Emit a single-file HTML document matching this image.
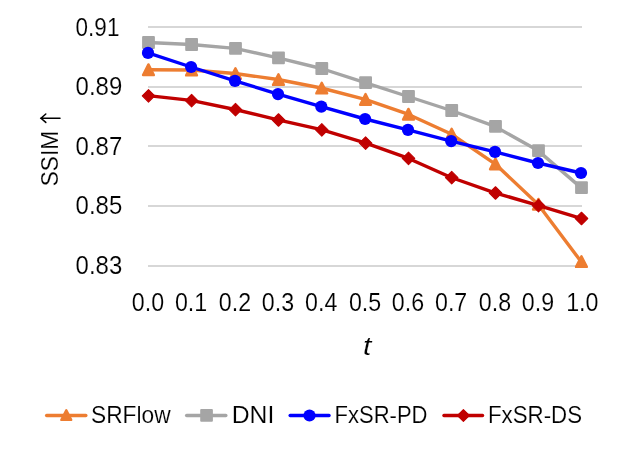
<!DOCTYPE html><html><head><meta charset="utf-8"><style>html,body{margin:0;padding:0;background:#fff;}svg{display:block;will-change:transform;}text{font-family:"Liberation Sans",sans-serif;fill:#000;stroke:#fff;stroke-width:0.14px;}</style></head><body>
<svg width="621" height="450" viewBox="0 0 621 450">
<rect width="621" height="450" fill="#fff"/>
<line x1="148" y1="27" x2="582" y2="27" stroke="#D7D7D7" stroke-width="2"/>
<line x1="148" y1="87" x2="582" y2="87" stroke="#D7D7D7" stroke-width="2"/>
<line x1="148" y1="146" x2="582" y2="146" stroke="#D7D7D7" stroke-width="2"/>
<line x1="148" y1="206" x2="582" y2="206" stroke="#D7D7D7" stroke-width="2"/>
<line x1="148" y1="266" x2="582" y2="266" stroke="#D7D7D7" stroke-width="2"/>
<polyline points="148.0,69.7 191.1,70.0 235.0,73.5 278.0,79.5 321.3,88.0 365.1,99.3 408.0,114.2 451.2,134.0 495.0,163.8 538.0,204.2 581.0,261.5" fill="none" stroke="#ED7D31" stroke-width="3.4" stroke-linejoin="round" stroke-linecap="round"/>
<path d="M148.45,64.40 L153.85,75.10 L143.05,75.10 Z" fill="#ED7D31" stroke="#ED7D31" stroke-width="2.4" stroke-linejoin="round"/>
<path d="M191.55,64.70 L196.95,75.40 L186.15,75.40 Z" fill="#ED7D31" stroke="#ED7D31" stroke-width="2.4" stroke-linejoin="round"/>
<path d="M235.45,68.20 L240.85,78.90 L230.05,78.90 Z" fill="#ED7D31" stroke="#ED7D31" stroke-width="2.4" stroke-linejoin="round"/>
<path d="M278.45,74.20 L283.85,84.90 L273.05,84.90 Z" fill="#ED7D31" stroke="#ED7D31" stroke-width="2.4" stroke-linejoin="round"/>
<path d="M321.75,82.70 L327.15,93.40 L316.35,93.40 Z" fill="#ED7D31" stroke="#ED7D31" stroke-width="2.4" stroke-linejoin="round"/>
<path d="M365.55,94.00 L370.95,104.70 L360.15,104.70 Z" fill="#ED7D31" stroke="#ED7D31" stroke-width="2.4" stroke-linejoin="round"/>
<path d="M408.45,108.90 L413.85,119.60 L403.05,119.60 Z" fill="#ED7D31" stroke="#ED7D31" stroke-width="2.4" stroke-linejoin="round"/>
<path d="M451.65,128.70 L457.05,139.40 L446.25,139.40 Z" fill="#ED7D31" stroke="#ED7D31" stroke-width="2.4" stroke-linejoin="round"/>
<path d="M495.45,158.50 L500.85,169.20 L490.05,169.20 Z" fill="#ED7D31" stroke="#ED7D31" stroke-width="2.4" stroke-linejoin="round"/>
<path d="M538.45,198.90 L543.85,209.60 L533.05,209.60 Z" fill="#ED7D31" stroke="#ED7D31" stroke-width="2.4" stroke-linejoin="round"/>
<path d="M581.45,256.20 L586.85,266.90 L576.05,266.90 Z" fill="#ED7D31" stroke="#ED7D31" stroke-width="2.4" stroke-linejoin="round"/>
<polyline points="148.0,42.5 191.1,44.5 235.0,48.4 278.0,57.9 321.3,68.5 365.1,82.6 408.0,96.5 451.2,110.5 495.0,126.4 538.0,150.6 581.0,187.6" fill="none" stroke="#A5A5A5" stroke-width="3.4" stroke-linejoin="round" stroke-linecap="round"/>
<rect x="142.1" y="36.1" width="12.8" height="12.8" rx="1" fill="#A5A5A5"/>
<rect x="185.2" y="38.1" width="12.8" height="12.8" rx="1" fill="#A5A5A5"/>
<rect x="229.1" y="42.0" width="12.8" height="12.8" rx="1" fill="#A5A5A5"/>
<rect x="272.1" y="51.5" width="12.8" height="12.8" rx="1" fill="#A5A5A5"/>
<rect x="315.4" y="62.1" width="12.8" height="12.8" rx="1" fill="#A5A5A5"/>
<rect x="359.2" y="76.2" width="12.8" height="12.8" rx="1" fill="#A5A5A5"/>
<rect x="402.1" y="90.1" width="12.8" height="12.8" rx="1" fill="#A5A5A5"/>
<rect x="445.3" y="104.1" width="12.8" height="12.8" rx="1" fill="#A5A5A5"/>
<rect x="489.1" y="120.0" width="12.8" height="12.8" rx="1" fill="#A5A5A5"/>
<rect x="532.1" y="144.2" width="12.8" height="12.8" rx="1" fill="#A5A5A5"/>
<rect x="575.1" y="181.2" width="12.8" height="12.8" rx="1" fill="#A5A5A5"/>
<polyline points="148.0,52.9 191.1,67.0 235.0,80.8 278.0,94.1 321.3,106.7 365.1,119.0 408.0,129.8 451.2,141.1 495.0,151.9 538.0,163.0 581.0,173.0" fill="none" stroke="#0000FF" stroke-width="3.4" stroke-linejoin="round" stroke-linecap="round"/>
<circle cx="148.0" cy="52.9" r="6.12" fill="#0000FF"/>
<circle cx="191.1" cy="67.0" r="6.12" fill="#0000FF"/>
<circle cx="235.0" cy="80.8" r="6.12" fill="#0000FF"/>
<circle cx="278.0" cy="94.1" r="6.12" fill="#0000FF"/>
<circle cx="321.3" cy="106.7" r="6.12" fill="#0000FF"/>
<circle cx="365.1" cy="119.0" r="6.12" fill="#0000FF"/>
<circle cx="408.0" cy="129.8" r="6.12" fill="#0000FF"/>
<circle cx="451.2" cy="141.1" r="6.12" fill="#0000FF"/>
<circle cx="495.0" cy="151.9" r="6.12" fill="#0000FF"/>
<circle cx="538.0" cy="163.0" r="6.12" fill="#0000FF"/>
<circle cx="581.0" cy="173.0" r="6.12" fill="#0000FF"/>
<polyline points="148.0,95.6 191.1,100.4 235.0,109.5 278.0,119.8 321.3,129.7 365.1,142.9 408.0,158.2 451.2,177.5 495.0,192.8 538.0,205.4 581.0,218.3" fill="none" stroke="#C00000" stroke-width="3.4" stroke-linejoin="round" stroke-linecap="round"/>
<path d="M148.5,89.55 L154.75,95.8 L148.5,102.05 L142.25,95.8 Z" fill="#C00000" stroke="#C00000" stroke-width="1.1" stroke-linejoin="round"/>
<path d="M191.6,94.35 L197.85,100.6 L191.6,106.85 L185.35,100.6 Z" fill="#C00000" stroke="#C00000" stroke-width="1.1" stroke-linejoin="round"/>
<path d="M235.5,103.45 L241.75,109.7 L235.5,115.95 L229.25,109.7 Z" fill="#C00000" stroke="#C00000" stroke-width="1.1" stroke-linejoin="round"/>
<path d="M278.5,113.75 L284.75,120.0 L278.5,126.25 L272.25,120.0 Z" fill="#C00000" stroke="#C00000" stroke-width="1.1" stroke-linejoin="round"/>
<path d="M321.8,123.65 L328.05,129.9 L321.8,136.15 L315.55,129.9 Z" fill="#C00000" stroke="#C00000" stroke-width="1.1" stroke-linejoin="round"/>
<path d="M365.6,136.85 L371.85,143.1 L365.6,149.35 L359.35,143.1 Z" fill="#C00000" stroke="#C00000" stroke-width="1.1" stroke-linejoin="round"/>
<path d="M408.5,152.15 L414.75,158.4 L408.5,164.65 L402.25,158.4 Z" fill="#C00000" stroke="#C00000" stroke-width="1.1" stroke-linejoin="round"/>
<path d="M451.7,171.45 L457.95,177.7 L451.7,183.95 L445.45,177.7 Z" fill="#C00000" stroke="#C00000" stroke-width="1.1" stroke-linejoin="round"/>
<path d="M495.5,186.75 L501.75,193.0 L495.5,199.25 L489.25,193.0 Z" fill="#C00000" stroke="#C00000" stroke-width="1.1" stroke-linejoin="round"/>
<path d="M538.5,199.35 L544.75,205.6 L538.5,211.85 L532.25,205.6 Z" fill="#C00000" stroke="#C00000" stroke-width="1.1" stroke-linejoin="round"/>
<path d="M581.5,212.25 L587.75,218.5 L581.5,224.75 L575.25,218.5 Z" fill="#C00000" stroke="#C00000" stroke-width="1.1" stroke-linejoin="round"/>
<text transform="translate(75.60,36.00) scale(1,1.07)" font-size="23.5" textLength="43.8" lengthAdjust="spacingAndGlyphs" >0.91</text>
<text transform="translate(75.60,94.80) scale(1,1.07)" font-size="23.5" textLength="46.6" lengthAdjust="spacingAndGlyphs" >0.89</text>
<text transform="translate(75.60,154.80) scale(1,1.07)" font-size="23.5" textLength="46.6" lengthAdjust="spacingAndGlyphs" >0.87</text>
<text transform="translate(75.60,213.90) scale(1,1.07)" font-size="23.5" textLength="46.6" lengthAdjust="spacingAndGlyphs" >0.85</text>
<text transform="translate(75.60,273.90) scale(1,1.07)" font-size="23.5" textLength="46.6" lengthAdjust="spacingAndGlyphs" >0.83</text>
<text transform="translate(131.80,311.00) scale(1,1.07)" font-size="23.5" textLength="32.3" lengthAdjust="spacingAndGlyphs" >0.0</text>
<text transform="translate(174.90,311.00) scale(1,1.07)" font-size="23.5" textLength="32.3" lengthAdjust="spacingAndGlyphs" >0.1</text>
<text transform="translate(218.80,311.00) scale(1,1.07)" font-size="23.5" textLength="32.3" lengthAdjust="spacingAndGlyphs" >0.2</text>
<text transform="translate(261.80,311.00) scale(1,1.07)" font-size="23.5" textLength="32.3" lengthAdjust="spacingAndGlyphs" >0.3</text>
<text transform="translate(305.10,311.00) scale(1,1.07)" font-size="23.5" textLength="32.3" lengthAdjust="spacingAndGlyphs" >0.4</text>
<text transform="translate(348.90,311.00) scale(1,1.07)" font-size="23.5" textLength="32.3" lengthAdjust="spacingAndGlyphs" >0.5</text>
<text transform="translate(391.80,311.00) scale(1,1.07)" font-size="23.5" textLength="32.3" lengthAdjust="spacingAndGlyphs" >0.6</text>
<text transform="translate(435.00,311.00) scale(1,1.07)" font-size="23.5" textLength="32.3" lengthAdjust="spacingAndGlyphs" >0.7</text>
<text transform="translate(478.80,311.00) scale(1,1.07)" font-size="23.5" textLength="32.3" lengthAdjust="spacingAndGlyphs" >0.8</text>
<text transform="translate(521.80,311.00) scale(1,1.07)" font-size="23.5" textLength="32.3" lengthAdjust="spacingAndGlyphs" >0.9</text>
<text transform="translate(566.20,311.00) scale(1,1.07)" font-size="23.5" textLength="32.3" lengthAdjust="spacingAndGlyphs" >1.0</text>
<text transform="translate(363.0,354.9) scale(1.25,1.07)" font-size="24" font-style="italic">t</text>
<g transform="translate(57.8,186.2) rotate(-90)"><text transform="translate(0.00,0.00) scale(1,1.03)" font-size="23.5" textLength="55.2" lengthAdjust="spacingAndGlyphs" >SSIM</text></g>
<path d="M40.6,118.2 L60,118.2 M45.8,114 L41,118.2 L45.8,122.4" fill="none" stroke="#000" stroke-width="1.5" stroke-linecap="round" stroke-linejoin="miter"/>
<line x1="46.6" y1="415.5" x2="85.9" y2="415.5" stroke="#ED7D31" stroke-width="3.3" stroke-linecap="round"/><path d="M66.30,410.20 L71.20,419.90 L61.40,419.90 Z" fill="#ED7D31" stroke="#ED7D31" stroke-width="2.4" stroke-linejoin="round"/>
<text transform="translate(91.00,422.70) scale(1,1.035)" font-size="23.5" textLength="79.6" lengthAdjust="spacingAndGlyphs" >SRFlow</text>
<line x1="186.6" y1="415.5" x2="225.9" y2="415.5" stroke="#A5A5A5" stroke-width="3.3" stroke-linecap="round"/><rect x="200.2" y="409.0" width="12.7" height="12.7" rx="1" fill="#A5A5A5"/>
<text transform="translate(231.70,422.70) scale(1,1.035)" font-size="23.5" textLength="42.6" lengthAdjust="spacingAndGlyphs" >DNI</text>
<line x1="290.1" y1="415.5" x2="329.09999999999997" y2="415.5" stroke="#0000FF" stroke-width="3.3" stroke-linecap="round"/><circle cx="309.5" cy="415.5" r="6.1" fill="#0000FF"/>
<text transform="translate(334.50,422.70) scale(1,1.035)" font-size="23.5" textLength="93.0" lengthAdjust="spacingAndGlyphs" >FxSR-PD</text>
<line x1="443.90000000000003" y1="415.5" x2="482.59999999999997" y2="415.5" stroke="#C00000" stroke-width="3.3" stroke-linecap="round"/><path d="M463.4,409.55 L469.35,415.5 L463.4,421.45 L457.45,415.5 Z" fill="#C00000" stroke="#C00000" stroke-width="1.1" stroke-linejoin="round"/>
<text transform="translate(488.00,422.70) scale(1,1.035)" font-size="23.5" textLength="94.0" lengthAdjust="spacingAndGlyphs" >FxSR-DS</text>
</svg></body></html>
